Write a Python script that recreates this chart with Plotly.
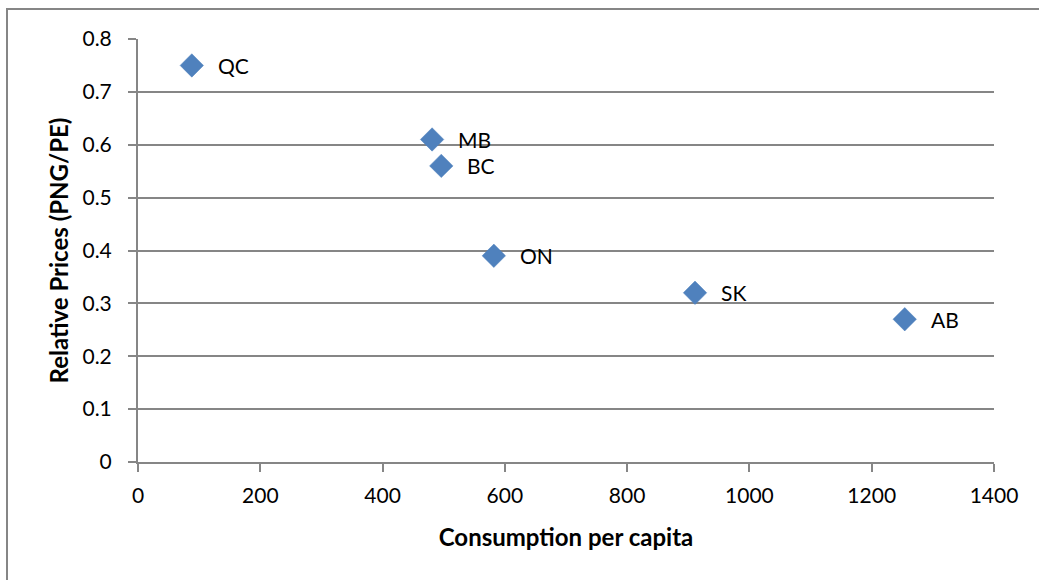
import plotly.graph_objects as go

# Provincial natural gas consumption vs relative prices
provinces = ["QC", "MB", "BC", "ON", "SK", "AB"]
consumption = [88, 481, 496, 582, 911, 1254]
relative_price = [0.75, 0.61, 0.56, 0.39, 0.32, 0.27]

x_ticks = [0, 200, 400, 600, 800, 1000, 1200, 1400]
y_ticks = [0, 0.1, 0.2, 0.3, 0.4, 0.5, 0.6, 0.7, 0.8]

FONT = "Lato"
GRID = "#868686"

fig = go.Figure()
fig.add_trace(go.Scatter(
    x=consumption, y=relative_price, mode="markers",
    marker=dict(symbol="diamond", size=18, color="#4F81BD",
                line=dict(width=0.5, color="#4A7EBB")),
    showlegend=False, hoverinfo="x+y",
))

for name, xv, yv in zip(provinces, consumption, relative_price):
    fig.add_annotation(x=xv, y=yv, text=name, showarrow=False,
                       xanchor="left", yanchor="middle", xshift=24,
                       font=dict(family=FONT, size=21, color="black"))

fig.update_layout(
    width=1039, height=580,
    margin=dict(l=138, r=45, t=39, b=118),
    paper_bgcolor="white", plot_bgcolor="white",
    font=dict(family=FONT, size=21, color="black"),
    xaxis=dict(
        range=[0, 1400], tickvals=x_ticks, ticktext=[str(v) for v in x_ticks],
        showgrid=False, zeroline=False, showline=True, linecolor=GRID, linewidth=2,
        ticks="outside", ticklen=8, tickwidth=2, tickcolor=GRID,
        ticklabelstandoff=6,
        title=dict(text="<b>Consumption per capita</b>", standoff=23,
                   font=dict(family=FONT, size=24)),
    ),
    yaxis=dict(
        range=[0, 0.8], tickvals=y_ticks,
        ticktext=["0" if v == 0 else f"{v:.1f}" for v in y_ticks],
        showgrid=True, gridcolor=GRID, gridwidth=2, zeroline=False,
        showline=True, linecolor=GRID, linewidth=2,
        ticks="outside", ticklen=8, tickwidth=2, tickcolor=GRID,
        ticklabelstandoff=12,
        title=dict(text="<b>Relative Prices (PNG/PE)</b>", standoff=7,
                   font=dict(family=FONT, size=24)),
    ),
)

# outer chart frame
fig.add_shape(type="rect", xref="paper", yref="paper",
              x0=-131 / 856, x1=1.1, y0=-0.4, y1=1 + 30 / 423,
              line=dict(color=GRID, width=2), fillcolor="rgba(0,0,0,0)",
              layer="below")

fig.write_html("out.html")
